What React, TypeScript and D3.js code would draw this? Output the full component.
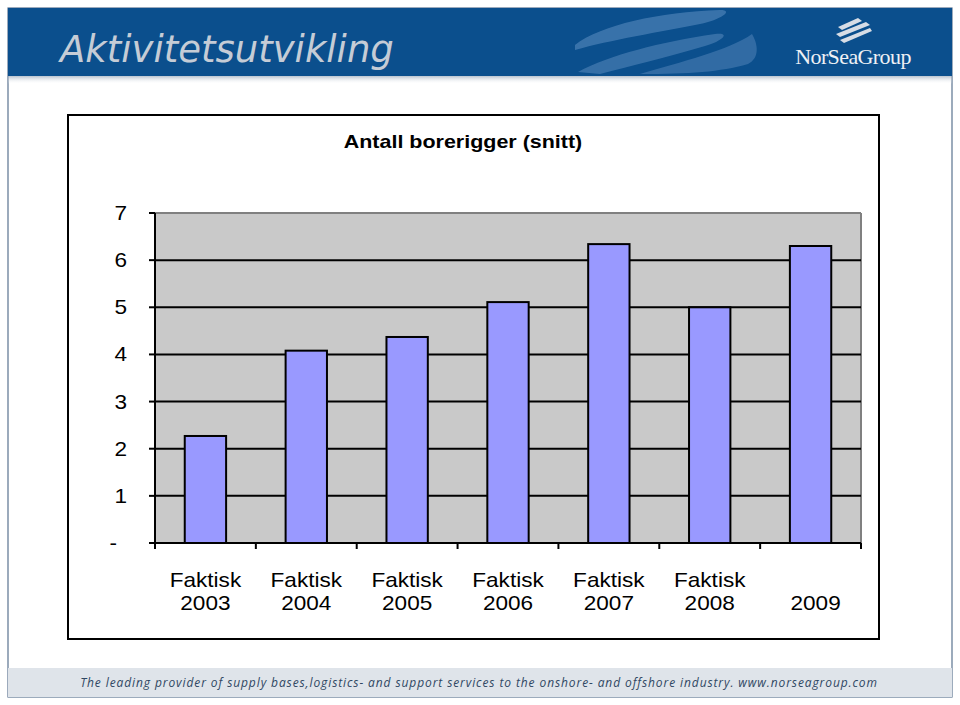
import React from "react";
import * as d3 from "d3";

const categories = ["Faktisk 2003", "Faktisk 2004", "Faktisk 2005", "Faktisk 2006", "Faktisk 2007", "Faktisk 2008", "2009"];
const values = [2.27, 4.08, 4.37, 5.11, 6.34, 5.0, 6.3];
const yTicks = [0, 1, 2, 3, 4, 5, 6, 7];
const chartTitle = "Antall borerigger (snitt)";
const slideTitle = "Aktivitetsutvikling";
const footerText = "The leading provider of supply bases,logistics- and support services to the onshore- and offshore industry. www.norseagroup.com";

export default function App() {
  const W = 960, H = 705;
  const plot = { left: 155, right: 861, top: 213, bottom: 543 };
  const x = d3.scaleBand<string>().domain(categories).range([plot.left, plot.right]).paddingInner(0.59).paddingOuter(0.295);
  const step = (plot.right - plot.left) / categories.length;
  const y = d3.scaleLinear().domain([0, 7]).range([plot.bottom, plot.top]);
  const font = "'Liberation Sans', Arial, sans-serif";
  const sx = 1.13;

  return (
    <div style={{ position: "absolute", left: 0, top: 0 }}>
      <svg width={W} height={H} style={{ display: "block", background: "#fff" }}>
        {/* slide frame */}
        <rect x={8} y={8} width={944} height={689} fill="#fff" stroke="#5b7390" strokeWidth={1.2} />
        {/* header */}
        <defs>
          <linearGradient id="hdrShadow" x1="0" y1="0" x2="0" y2="1">
            <stop offset="0" stopColor="#9aa9bb" stopOpacity={0.7} />
            <stop offset="1" stopColor="#ffffff" stopOpacity={0} />
          </linearGradient>
        </defs>
        <rect x={8} y={8} width={944} height={68} fill="#0b4f8d" />
        <rect x={8} y={76} width={944} height={8} fill="url(#hdrShadow)" />
        <path d="M575,45 C600,25 660,12 720,10 C735,10 720,20 700,24 C660,32 610,40 575,50 Z" fill="#5f8fc2" opacity={0.55} />
        <path d="M578,72 C610,55 660,42 715,34 C730,32 725,40 705,46 C665,58 630,66 600,74 Z" fill="#5f8fc2" opacity={0.5} />
        <path d="M640,74 C680,62 730,50 752,34 C758,44 760,58 748,64 C720,72 690,74 640,74 Z" fill="#5f8fc2" opacity={0.45} />
        <text x={60} y={62} fontFamily="'DejaVu Sans', Verdana, sans-serif" fontStyle="italic" fontSize={37} fill="#c5ccd6">{slideTitle}</text>
        {/* logo */}
        <g fill="#d7dde6">
          <path d="M838,27 L858,18 L862,21 L842,30 Z" />
          <path d="M836,34 L866,22 L870,25 L840,37 Z" />
          <path d="M840,40 L870,28 L872,31 L844,43 Z" />
        </g>
        <text x={853} y={64} textAnchor="middle" fontFamily="'Liberation Serif', serif" fontSize={22} fill="#eef1f5" letterSpacing={-0.6}>NorSeaGroup</text>
        {/* footer */}
        <rect x={8} y={668} width={944} height={29} fill="#dfe4ea" />
        <text x={479} y={687} textAnchor="middle" fontFamily="'Open Sans', sans-serif" fontStyle="italic" fontSize={12} letterSpacing={0.9} fill="#2f4763">{footerText}</text>

        {/* chart box */}
        <rect x={68} y={115} width={811} height={524} fill="#fff" stroke="#000" strokeWidth={2} />
        <text transform={`translate(463,148) scale(${sx},1)`} textAnchor="middle" fontFamily={font} fontWeight="bold" fontSize={19} fill="#000">{chartTitle}</text>

        {/* plot area */}
        <rect x={plot.left} y={plot.top} width={plot.right - plot.left} height={plot.bottom - plot.top} fill="#c9c9c9" />
        <line x1={plot.left} x2={plot.right} y1={plot.top} y2={plot.top} stroke="#808080" strokeWidth={2} />
        <line x1={plot.right} x2={plot.right} y1={plot.top} y2={plot.bottom} stroke="#808080" strokeWidth={2} />
        {yTicks.filter(t => t > 0 && t < 7).map(t => (
          <line key={"g" + t} x1={plot.left} x2={plot.right} y1={y(t)} y2={y(t)} stroke="#000" strokeWidth={2} />
        ))}
        {values.map((v, i) => (
          <rect key={"b" + i} x={x(categories[i])!} y={y(v)} width={x.bandwidth()} height={y(0) - y(v)} fill="#9999ff" stroke="#000" strokeWidth={2} />
        ))}
        {/* axes */}
        <line x1={plot.left} x2={plot.left} y1={plot.top} y2={plot.bottom} stroke="#000" strokeWidth={2} />
        <line x1={plot.left} x2={plot.right} y1={plot.bottom} y2={plot.bottom} stroke="#000" strokeWidth={2} />
        {yTicks.map(t => (
          <g key={"y" + t}>
            <line x1={plot.left - 6} x2={plot.left} y1={y(t)} y2={y(t)} stroke="#000" strokeWidth={2} />
            <text transform={`translate(${t === 0 ? 117 : 127},${y(t) + 7}) scale(${sx},1)`} textAnchor="end" fontFamily={font} fontSize={20} fill="#000">{t === 0 ? "-" : String(t)}</text>
          </g>
        ))}
        {d3.range(categories.length + 1).map(i => (
          <line key={"xt" + i} x1={plot.left + i * step} x2={plot.left + i * step} y1={plot.bottom} y2={plot.bottom + 6} stroke="#000" strokeWidth={2} />
        ))}
        {categories.map((c, i) => {
          const parts = c.split(" ");
          const single = parts.length !== 2;
          const cx = x(c)! + x.bandwidth() / 2 + (single ? 5 : 0);
          const lines = single ? ["", parts[0]] : parts;
          return (
            <text key={"xl" + i} transform={`translate(${cx},0) scale(${sx},1)`} textAnchor="middle" fontFamily={font} fontSize={20} fill="#000">
              <tspan x={0} y={587}>{lines[0]}</tspan>
              <tspan x={0} y={610}>{lines[1]}</tspan>
            </text>
          );
        })}
      </svg>
    </div>
  );
}
